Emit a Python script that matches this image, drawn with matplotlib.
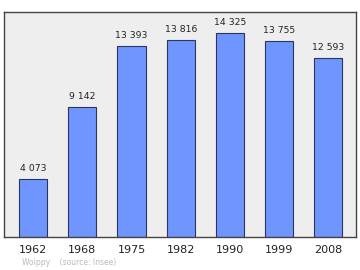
import matplotlib
matplotlib.use("Agg")
import matplotlib.pyplot as plt

# Population data (Woippy, source: Insee)
years = ["1962", "1968", "1975", "1982", "1990", "1999", "2008"]
population = [4073, 9142, 13393, 13816, 14325, 13755, 12593]
value_labels = ["4 073", "9 142", "13 393", "13 816", "14 325", "13 755", "12 593"]

fig = plt.figure(figsize=(3.6, 2.7), dpi=100)
ax = fig.add_axes([0.011, 0.122, 0.978, 0.834])
ax.set_facecolor("#eeeeee")

x = list(range(len(years)))
ax.bar(x, population, width=0.57, color="#6f96ff", edgecolor="#2a3560", linewidth=0.8, zorder=2)

for xi, v, lab in zip(x, population, value_labels):
    ax.text(xi, v + 400, lab, ha="center", va="bottom", fontsize=6.7, color="#222222")

ax.set_xlim(-0.59, 6.56)
ax.set_ylim(0, 15800)
ax.set_xticks(x)
ax.set_xticklabels(years, fontsize=8, color="#222222")
ax.tick_params(axis="x", length=0, pad=6)
ax.set_yticks([])
for s in ax.spines.values():
    s.set_color("#444444")
    s.set_linewidth(1.0)

fig.text(0.06, 0.02, "Woippy    (source: Insee)", fontsize=5.5, color="#bbbbbb")

fig.savefig("out.png", dpi=100, facecolor="white")
